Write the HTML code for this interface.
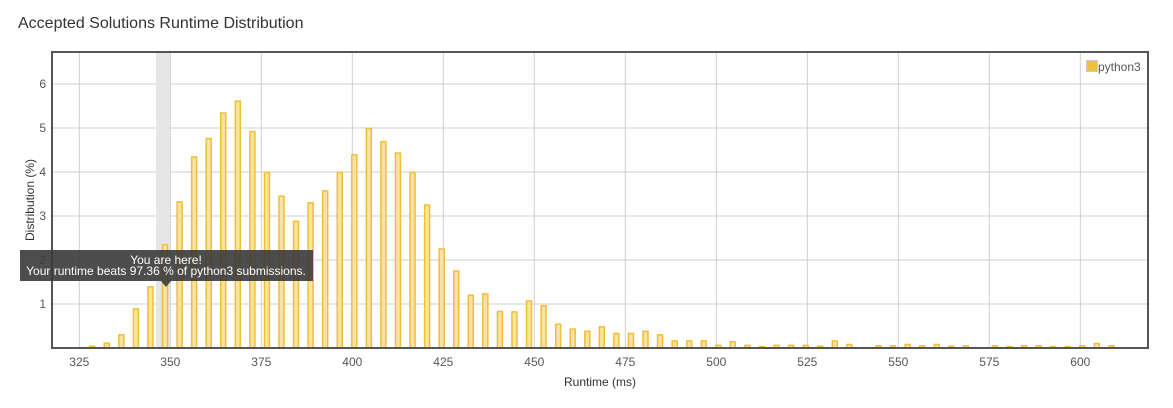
<!DOCTYPE html>
<html><head><meta charset="utf-8"><style>
body{margin:0;background:#fff;font-family:"Liberation Sans",sans-serif;}
svg text{font-family:"Liberation Sans",sans-serif;}
</style></head><body>
<svg width="1173" height="403">
<text x="18" y="28" font-size="16" fill="#333">Accepted Solutions Runtime Distribution</text>
<g id="grid"></g>
<rect x="156" y="52" width="14" height="296" fill="#e6e6e6"/>
<g id="bars"></g>
<rect x="52" y="52" width="1096" height="296" fill="none" stroke="#555" stroke-width="2"/>
<g id="ticks"></g>
<text x="34" y="200" font-size="12" fill="#333" text-anchor="middle" transform="rotate(-90 34 200)">Distribution (%)</text>
<text x="600" y="386" font-size="12" fill="#333" text-anchor="middle">Runtime (ms)</text>
<g>
<rect x="1086.5" y="60.5" width="11" height="11" fill="#f0c040" stroke="#ccc"/>
<text x="1098" y="71" font-size="12" fill="#555">python3</text>
</g>
<g>
<rect x="20" y="250" width="293" height="31" fill="#3a3a3a" opacity="0.9"/>
<path d="M161 281 L166 287 L171 281 Z" fill="#3a3a3a" opacity="0.9"/>
<text x="166" y="264" font-size="12" fill="#fff" text-anchor="middle">You are here!</text>
<text x="166" y="275" font-size="12" fill="#fff" text-anchor="middle">Your runtime beats 97.36 % of python3 submissions.</text>
</g>
</svg>
<script>
const runtimes=[328,332,336,340,344,348,352,356,360,364,368,372,376,380,384,388,392,396,400,404,408,412,416,420,424,428,432,436,440,444,448,452,456,460,464,468,472,476,480,484,488,492,496,500,504,508,512,516,520,524,528,532,536,544,548,552,556,560,564,568,576,580,584,588,592,596,600,604,608];
const percents=[0.04,0.11,0.3,0.89,1.39,2.35,3.32,4.34,4.76,5.34,5.61,4.92,3.99,3.45,2.88,3.3,3.57,3.99,4.39,4.99,4.69,4.43,3.99,3.25,2.25,1.75,1.2,1.23,0.83,0.82,1.07,0.96,0.54,0.43,0.38,0.48,0.33,0.33,0.38,0.3,0.16,0.16,0.16,0.06,0.14,0.06,0.03,0.06,0.06,0.06,0.04,0.16,0.08,0.05,0.05,0.08,0.05,0.08,0.04,0.05,0.05,0.03,0.05,0.05,0.03,0.03,0.05,0.1,0.05];
const xTicks=[325,350,375,400,425,450,475,500,525,550,575,600];
const yTicks=[1,2,3,4,5,6];
const NS='http://www.w3.org/2000/svg';
const x=v=>79.3+(v-325)*3.64;
const y=v=>348-v*44;
const grid=document.getElementById('grid'),ticks=document.getElementById('ticks'),bars=document.getElementById('bars');
function mk(tag,attrs,parent){const e=document.createElementNS(NS,tag);for(const k in attrs)e.setAttribute(k,attrs[k]);parent.appendChild(e);return e;}
xTicks.forEach(t=>{
 const l=mk('line',{x1:x(t),x2:x(t),y1:52,y2:348,stroke:'#cfcfcf'},grid);
 
 
 const tx=mk('text',{x:x(t),y:366,'font-size':12,fill:'#555','text-anchor':'middle'},ticks);
 tx.textContent=t;
 
 
});
yTicks.forEach(t=>{
 const l=mk('line',{x1:52,x2:1148,y1:y(t),y2:y(t),stroke:'#cfcfcf'},grid);
 
 
 const tx=mk('text',{x:46,y:y(t)+4,'font-size':12,fill:'#555','text-anchor':'end'},ticks);
 tx.textContent=t;
 
 
});
runtimes.forEach((r,i)=>{
 const v=percents[i];
 const b=mk('rect',{x:x(r)+2-2.5,y:y(v),width:5,height:348-y(v),fill:'#f9e3a0',stroke:'#efbf3a','stroke-width':1.5},bars);
 
 
});
</script>
</body></html>
